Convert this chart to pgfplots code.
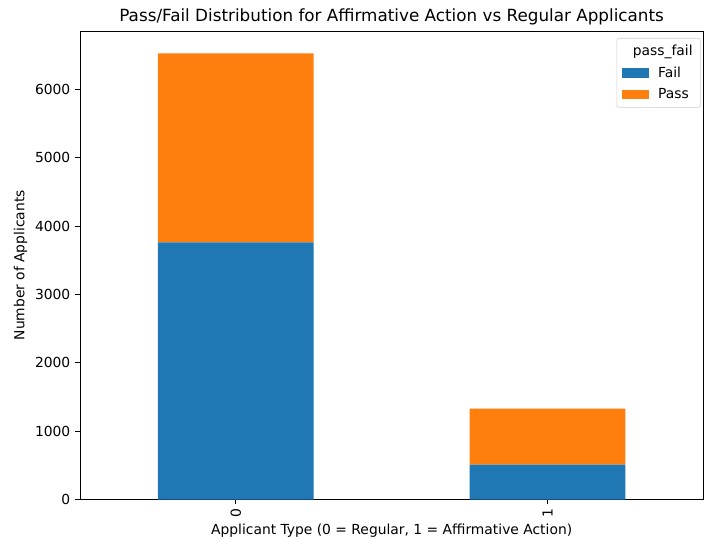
\documentclass[border=0pt]{standalone}
\usepackage{pgfplots}
\pgfplotsset{compat=1.18}
\usepackage{fontspec}
\setmainfont{DejaVu Sans}
\definecolor{mplblue}{HTML}{1F77B4}
\definecolor{mplorange}{HTML}{FF7F0E}
\begin{document}
\begin{tikzpicture}
\begin{axis}[
  scale only axis,
  width=468pt, height=351.75pt,
  ybar stacked,
  bar width=0.5,
  xmin=-0.5, xmax=1.5,
  ymin=0, ymax=6852,
  xtick={0,1}, xticklabels={0,1},
  x tick label style={rotate=90, anchor=east, font=\fontsize{10.4}{12}\selectfont},
  ytick={0,1000,2000,3000,4000,5000,6000},
  y tick label style={font=\fontsize{10.4}{12}\selectfont},
  scaled y ticks=false,
  /pgf/number format/assume math mode=true,
  /pgf/number format/1000 sep={},
  tick align=outside,
  tick pos=left,
  major tick length=3.7pt,
  axis line style={black, line width=0.6pt},
  tick style={black, line width=0.6pt},
  title={Pass/Fail Distribution for Affirmative Action vs Regular Applicants},
  title style={font=\fontsize{12.6}{14}\selectfont, yshift=-5pt},
  xlabel={Applicant Type (0 = Regular, 1 = Affirmative Action)},
  ylabel={Number of Applicants},
  label style={font=\fontsize{10.4}{12}\selectfont},
  xlabel style={yshift=2pt},
  ylabel style={yshift=-1pt},
  legend style={at={(0.996,0.985)}, anchor=north east, draw=black!20, rounded corners=2pt,
    font=\fontsize{10.4}{12}\selectfont, row sep=3pt, inner xsep=4pt, inner ysep=3pt},
  legend cell align=left,
  legend image code/.code={\fill[#1, sharp corners] (0pt,-3.5pt) rectangle (20pt,3.5pt);},
]
\addlegendimage{empty legend}
\addlegendentry{\hspace{-14pt}pass\_fail}
\addplot[fill=mplblue, draw=none] coordinates {(0,3759) (1,511)};
\addlegendentry{\hspace{5pt}Fail}
\addplot[fill=mplorange, draw=none] coordinates {(0,2767) (1,818)};
\addlegendentry{\hspace{5pt}Pass}
\coordinate (sw) at (rel axis cs:0,0);
\coordinate (ne) at (rel axis cs:1,1);
\end{axis}
\pgfresetboundingbox
\path[use as bounding box] ([shift={(-60pt,-29.25pt)}]sw) rectangle ([shift={(0.5pt,23.25pt)}]ne);
\end{tikzpicture}
\end{document}
